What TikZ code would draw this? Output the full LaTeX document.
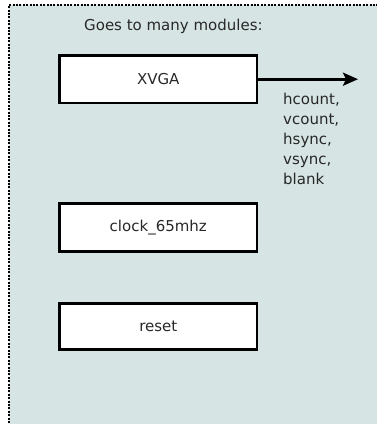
\documentclass[tikz,border=0pt]{standalone}
\usepackage{fontspec}
\setmainfont{DejaVu Sans}
\usetikzlibrary{arrows.meta}
\definecolor{panelfill}{RGB}{214,228,228}
\definecolor{inktext}{RGB}{40,40,40}
\tikzset{
  panel/.style={fill=panelfill},
  panelrim/.style={line width=2pt, dash pattern=on 2pt off 1.4pt},
  modbox/.style={draw=black, fill=white, line width=2.7pt, rectangle,
    minimum width=197.5pt, minimum height=47.5pt, inner sep=0pt,
    text=inktext, font=\fontsize{15}{20}\selectfont},
  sigarrow/.style={line width=2.8pt, -{Stealth[length=15pt,width=13pt,inset=3pt]}},
  note/.style={text=inktext, font=\fontsize{15}{20}\selectfont, inner sep=0pt}
}
\begin{document}
\begin{tikzpicture}[x=1pt,y=-1pt]
  \useasboundingbox (0,0) rectangle (377,424);
  \clip (0,0) rectangle (377,424);
  % shaded group area with dotted top and left rim
  \fill[panel] (9,5) rectangle (390,440);
  \draw[panelrim] (9,440) -- (9,5) -- (390,5);

  \node[note, anchor=base west] (title) at (84,30.5) {Goes to many modules:};

  \node[modbox] (xvga) at (158.3,79.2) {XVGA};
  \node[modbox, minimum height=48pt] (clk) at (158.3,227.8) {clock\_65mhz};
  \node[modbox, minimum height=46pt] (rst) at (158.3,326.3) {reset};

  \coordinate (out) at (358,79.2);
  \draw[sigarrow] (xvga.east) -- (out);

  \node[note, anchor=north west, align=left] (sigs) at (283,92.6)
    {hcount,\\vcount,\\hsync,\\vsync,\\blank};
\end{tikzpicture}
\end{document}
